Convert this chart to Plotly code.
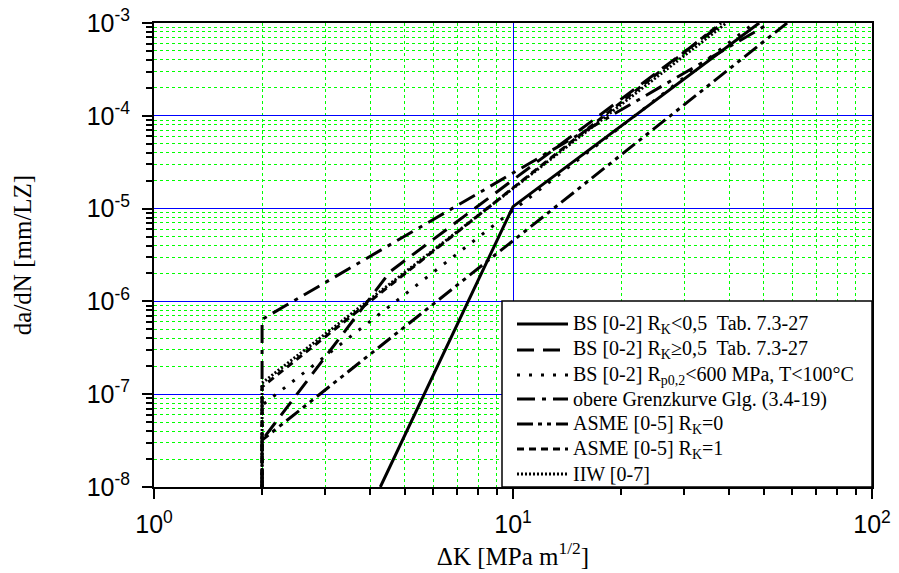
import plotly.graph_objects as go

# ---- data (ΔK in MPa m^1/2, da/dN in mm/LZ) ----
bs_lt05_dk = [4.27, 10.0, 48.5]
bs_lt05_dadn = [1e-8, 1.05e-5, 1e-3]

bs_ge05_dk = [2.0, 2.0, 4.55, 38.5]
bs_ge05_dadn = [1e-8, 3.2e-8, 2.1e-6, 1e-3]

bs_rp_dk = [2.0, 2.0, 47.0]
bs_rp_dadn = [1e-8, 7.6e-8, 1e-3]

obere_dk = [2.0, 2.0, 52.0]
obere_dadn = [1e-8, 6.4e-7, 1e-3]

asme0_dk = [2.0, 2.0, 58.0]
asme0_dadn = [1e-8, 3.2e-8, 1e-3]

asme1_dk = [2.0, 2.0, 38.0]
asme1_dadn = [1e-8, 1.2e-7, 1e-3]

iiw_dk = [2.0, 2.0, 39.3]
iiw_dadn = [1e-8, 1.32e-7, 1e-3]

x_ticks = [1, 10, 100]
x_ticktext = ["10<sup>0</sup>", "10<sup>1</sup>", "10<sup>2</sup>"]
y_ticks = [1e-8, 1e-7, 1e-6, 1e-5, 1e-4, 1e-3]
y_ticktext = ["10<sup>-8</sup>", "10<sup>-7</sup>", "10<sup>-6</sup>",
              "10<sup>-5</sup>", "10<sup>-4</sup>", "10<sup>-3</sup>"]

names = [
    "BS [0-2] R<sub>K</sub>&lt;0,5\u00a0 Tab. 7.3-27",
    "BS [0-2] R<sub>K</sub>≥0,5\u00a0 Tab. 7.3-27",
    "BS [0-2] R<sub>p0,2</sub>&lt;600 MPa, T&lt;100°C",
    "obere Grenzkurve Glg. (3.4-19)",
    "ASME [0-5] R<sub>K</sub>=0",
    "ASME [0-5] R<sub>K</sub>=1",
    "IIW [0-7]",
]

dashes = ["solid", "17px,9px", "3px,9px", "18px,7px,4px,7px",
          "16px,5px,4px,5px,4px,5px", "7px,5px", "2px,2px"]

series = [
    (bs_lt05_dk, bs_lt05_dadn),
    (bs_ge05_dk, bs_ge05_dadn),
    (bs_rp_dk, bs_rp_dadn),
    (obere_dk, obere_dadn),
    (asme0_dk, asme0_dadn),
    (asme1_dk, asme1_dadn),
    (iiw_dk, iiw_dadn),
]

# plot-area geometry in pixels
W, H = 899, 573
L, R, T, B = 154, 27, 23, 86
PW, PH = W - L - R, H - T - B


def px(xp):
    return (xp - L) / PW


def py(yp):
    return (H - B - yp) / PH


fig = go.Figure()
for (xs, ys), dash, nm in zip(series, dashes, names):
    fig.add_trace(go.Scatter(x=xs, y=ys, mode="lines", name=nm, showlegend=False,
                             line=dict(color="black", width=3, dash=dash)))

# legend box drawn by hand (to match the reference's long line samples)
shapes = [dict(type="rect", xref="paper", yref="paper",
               x0=px(502), x1=1.0, y0=0.0, y1=py(301),
               line=dict(color="black", width=1.5), fillcolor="white", layer="above")]
annotations = []
row_y = [324, 350, 375, 399, 424, 449, 474]
for yy, dash, nm in zip(row_y, dashes, names):
    shapes.append(dict(type="line", xref="paper", yref="paper",
                       x0=px(517), x1=px(568), y0=py(yy), y1=py(yy),
                       line=dict(color="black", width=3, dash=dash), layer="above"))
    annotations.append(dict(xref="paper", yref="paper", x=px(571), y=py(yy),
                            xanchor="left", yanchor="middle", showarrow=False,
                            text=nm, align="left",
                            font=dict(family="Liberation Serif, Times New Roman",
                                      size=20, color="black")))

minor_x = [m * 10 ** e for e in range(0, 2) for m in range(2, 10)]
minor_y = [m * 10.0 ** e for e in range(-8, -3) for m in range(2, 10)]

tick_font = dict(family="Liberation Sans, Arial", size=25, color="black")
title_font = dict(family="Liberation Serif, Times New Roman", size=25, color="black")

fig.update_layout(
    width=W, height=H,
    margin=dict(l=L, r=R, t=T, b=B),
    paper_bgcolor="white", plot_bgcolor="white",
    font=dict(family="Liberation Serif, Times New Roman", color="black"),
    showlegend=False,
    shapes=shapes,
    annotations=annotations,
)

common = dict(
    type="log", tickmode="array", tickfont=tick_font,
    ticks="outside", ticklen=10, tickwidth=1.5, tickcolor="black",
    showline=True, linecolor="black", linewidth=2, mirror=True,
    showgrid=True, gridcolor="#0000ff", gridwidth=1.2,
    zeroline=False, automargin=False, ticklabeloverflow="allow",
)

fig.update_xaxes(
    range=[0, 2], tickvals=x_ticks, ticktext=x_ticktext,
    ticklabelstandoff=4,
    minor=dict(tickmode="array", tickvals=minor_x, ticks="outside", ticklen=6,
               tickwidth=1.5, tickcolor="black", showgrid=True,
               gridcolor="#00ff00", gridwidth=1, griddash="dot"),
    title=dict(text="ΔK [MPa m<sup>1/2</sup>]", font=title_font, standoff=4),
    **common,
)
fig.update_yaxes(
    range=[-8, -3], tickvals=y_ticks, ticktext=y_ticktext,
    ticklabelstandoff=7,
    minor=dict(tickmode="array", tickvals=minor_y, ticks="outside", ticklen=6,
               tickwidth=1.5, tickcolor="black", showgrid=True,
               gridcolor="#00ff00", gridwidth=1, griddash="dot"),
    title=dict(text="da/dN [mm/LZ]", font=title_font, standoff=48),
    **common,
)

fig.write_html("out.html",
               config={"displayModeBar": False},
               post_script="document.body.style.margin='0';document.body.style.overflow='hidden';")
